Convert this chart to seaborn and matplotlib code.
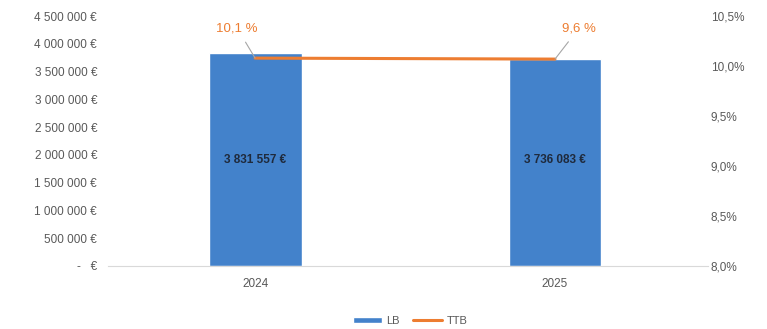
import numpy as np
import pandas as pd
import matplotlib
matplotlib.use("Agg")
import matplotlib.pyplot as plt
import seaborn as sns

# data
years = ["2024", "2025"]
lb_values = [3831557, 3736083]
lb_labels = ["3 831 557 €", "3 736 083 €"]
ttb_values = [10.08, 10.07]          # where the line sits on the right axis
ttb_labels = ["10,1 %", "9,6 %"]
left_ticks = [0, 500000, 1000000, 1500000, 2000000, 2500000,
              3000000, 3500000, 4000000, 4500000]
right_ticks = [8.0, 8.5, 9.0, 9.5, 10.0, 10.5]

sns.set_style("white")
plt.rcParams['font.family'] = ['Liberation Sans', 'DejaVu Sans']

df = pd.DataFrame({"year": years, "LB": lb_values, "TTB": ttb_values})

fig = plt.figure(figsize=(7.67, 3.29), dpi=100)
ax = fig.add_axes([0.141, 0.1915, 0.782, 0.7595])

blue = "#4382CB"
orange = "#ED7D31"
grey = "#7F7F7F"

sns.barplot(data=df, x="year", y="LB", color=blue, width=0.31,
            saturation=1, ax=ax, label="LB")
ax.set_xlim(-0.49, 1.51)
ax.set_ylim(0, 4500000)
ax.set_yticks(left_ticks)
if ax.get_legend() is not None:
    ax.get_legend().remove()

def euro(v):
    if v == 0:
        return "-   €"
    return f"{v:,.0f}".replace(",", " ") + " €"

ax.set_yticklabels([euro(v) for v in left_ticks])
ax.set_xlabel("")
ax.set_ylabel("")
ax.tick_params(axis="both", length=0, labelsize=8.5, colors="#595959")
ax.tick_params(axis="y", pad=8)
ax.tick_params(axis="x", pad=9)
for s in ["top", "right", "left"]:
    ax.spines[s].set_visible(False)
ax.spines["bottom"].set_color("#D9D9D9")

for i, lbl in enumerate(lb_labels):
    ax.text(i, 1910000, lbl, ha="center", va="center", fontsize=8.5,
            fontweight="bold", color="#1F2A3C")

ax2 = ax.twinx()
sns.lineplot(data=df, x="year", y="TTB", color=orange, linewidth=2.2,
             ax=ax2, label="TTB", legend=False)
ax2.set_ylim(8.0, 10.5)
ax2.set_yticks(right_ticks)
ax2.set_yticklabels([f"{v:.1f}%".replace(".", ",") for v in right_ticks])
ax2.set_ylabel("")
ax2.tick_params(axis="y", length=0, labelsize=8.5, colors="#595959", pad=2)
for s in ax2.spines.values():
    s.set_visible(False)

# rate labels with leader lines
offsets = [(-0.06, 10.38), (0.08, 10.38)]
for i, (lbl, (dx, ty)) in enumerate(zip(ttb_labels, offsets)):
    ax2.annotate(lbl, xy=(i, ttb_values[i]), xytext=(i + dx, ty),
                 ha="center", va="center", fontsize=9.5, color=orange,
                 arrowprops=dict(arrowstyle="-", color="#A6A6A6", lw=0.8,
                                 shrinkA=4, shrinkB=0))

h1, l1 = ax.get_legend_handles_labels()
h2, l2 = ax2.get_legend_handles_labels()
fig.legend(h1 + h2, l1 + l2, loc="center", bbox_to_anchor=(0.535, 0.025),
           ncol=2, frameon=False, fontsize=8, labelcolor="#595959",
           handlelength=2.6, handleheight=0.5, columnspacing=1.2,
           handletextpad=0.4)

fig.savefig("out.png", dpi=100)
